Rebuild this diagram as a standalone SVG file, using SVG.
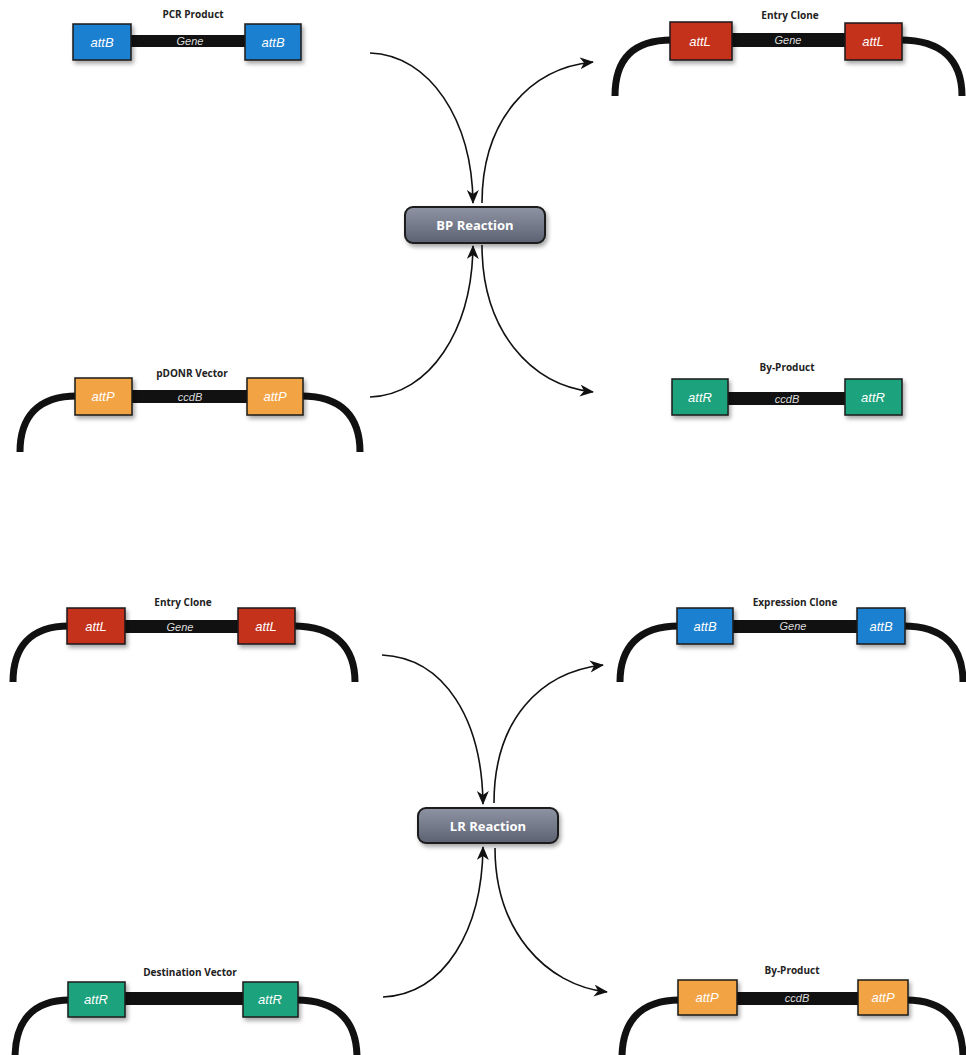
<svg xmlns="http://www.w3.org/2000/svg" width="966" height="1055" viewBox="0 0 966 1055">
<defs>
<filter id="sh" x="-20%" y="-20%" width="150%" height="160%"><feDropShadow dx="2" dy="3" stdDeviation="2" flood-color="#000" flood-opacity="0.35"/></filter>
<linearGradient id="rg" x1="0" y1="0" x2="0" y2="1"><stop offset="0" stop-color="#8e94a4"/><stop offset="1" stop-color="#5c6272"/></linearGradient>
<marker id="ah" markerUnits="userSpaceOnUse" markerWidth="16" markerHeight="14" refX="13" refY="6" orient="auto"><path d="M0,0 L14,6 L0,12 L4,6 z" fill="#111"/></marker>
</defs>
<style>
.title{font-family:"Open Sans","Liberation Sans",sans-serif;font-weight:bold;font-size:10px;fill:#222;text-anchor:middle}
.bar{fill:#111}
.bb{stroke:#1a1a1a;stroke-width:1.5;filter:url(#sh)}
.blue{fill:#1f80d0}
.red{fill:#c4321f}
.orange{fill:#f2a444}
.green{fill:#1ea27c}
.bl{font-family:"Liberation Sans",sans-serif;font-style:italic;font-size:13px;fill:#fff;text-anchor:middle}
.gl{font-family:"Liberation Sans",sans-serif;font-style:italic;font-size:11px;fill:#ddd;text-anchor:middle}
.curve{fill:none;stroke:#111;stroke-width:7}
.arr{fill:none;stroke:#111;stroke-width:1.6;marker-end:url(#ah)}
.rx{stroke:#1a1a1a;stroke-width:2;fill:url(#rg);filter:url(#sh)}
.rt{font-family:"Open Sans","Liberation Sans",sans-serif;font-weight:bold;font-size:13px;fill:#fff;text-anchor:middle}
</style>
<rect width="966" height="1055" fill="#fff"/>

<g id="pcr-product">
<text class="title" x="193" y="18">PCR Product</text>
<rect class="bar" x="128" y="35" width="120" height="12"/>
<rect class="bb blue" x="73" y="24" width="58" height="36"/>
<rect class="bb blue" x="245" y="24" width="56" height="36"/>
<text class="bl" x="102" y="47">attB</text>
<text class="bl" x="273" y="47">attB</text>
<text class="gl" x="190" y="45">Gene</text>
</g>

<g id="entry-clone-1">
<text class="title" x="790" y="19">Entry Clone</text>
<path class="curve" d="M672 40 C632 40 615 60 615 96"/>
<path class="curve" d="M900 40 C942 40 962 60 962 96"/>
<rect class="bar" x="730" y="33" width="118" height="14"/>
<rect class="bb red" x="670" y="22" width="62" height="38"/>
<rect class="bb red" x="845" y="23" width="57" height="37"/>
<text class="bl" x="700" y="46">attL</text>
<text class="bl" x="873" y="46">attL</text>
<text class="gl" x="788" y="44">Gene</text>
</g>

<g id="pdonr-vector">
<text class="title" x="192" y="377">pDONR Vector</text>
<path class="curve" d="M77 396 C37 396 20 418 20 452"/>
<path class="curve" d="M301 396 C343 396 360 418 360 452"/>
<rect class="bar" x="130" y="390" width="120" height="13"/>
<rect class="bb orange" x="75" y="378" width="57" height="37"/>
<rect class="bb orange" x="247" y="378" width="56" height="37"/>
<text class="bl" x="103" y="401">attP</text>
<text class="bl" x="275" y="401">attP</text>
<text class="gl" x="190" y="401">ccdB</text>
</g>

<g id="by-product-1">
<text class="title" x="787" y="371">By-Product</text>
<rect class="bar" x="726" y="392" width="122" height="13"/>
<rect class="bb green" x="672" y="379" width="56" height="36"/>
<rect class="bb green" x="845" y="379" width="57" height="36"/>
<text class="bl" x="700" y="402">attR</text>
<text class="bl" x="873" y="402">attR</text>
<text class="gl" x="787" y="403">ccdB</text>
</g>

<g id="bp-reaction">
<rect class="rx" x="405" y="207" width="140" height="36" rx="8"/>
<text class="rt" x="475" y="230">BP Reaction</text>
</g>

<g id="entry-clone-2">
<text class="title" x="183" y="606">Entry Clone</text>
<path class="curve" d="M69 626 C30 626 13 648 13 682"/>
<path class="curve" d="M293 626 C336 626 355 648 355 682"/>
<rect class="bar" x="123" y="620" width="118" height="13"/>
<rect class="bb red" x="67" y="608" width="58" height="36"/>
<rect class="bb red" x="238" y="608" width="57" height="36"/>
<text class="bl" x="96" y="631">attL</text>
<text class="bl" x="266" y="631">attL</text>
<text class="gl" x="180" y="631">Gene</text>
</g>

<g id="expression-clone">
<text class="title" x="795" y="606">Expression Clone</text>
<path class="curve" d="M679 626 C638 626 620 648 620 682"/>
<path class="curve" d="M903 626 C945 626 963 648 963 682"/>
<rect class="bar" x="731" y="620" width="128" height="13"/>
<rect class="bb blue" x="677" y="608" width="56" height="36"/>
<rect class="bb blue" x="857" y="608" width="48" height="36"/>
<text class="bl" x="705" y="631">attB</text>
<text class="bl" x="881" y="631">attB</text>
<text class="gl" x="793" y="630">Gene</text>
</g>

<g id="lr-reaction">
<rect class="rx" x="418" y="808" width="140" height="35" rx="8"/>
<text class="rt" x="488" y="831">LR Reaction</text>
</g>

<g id="destination-vector">
<text class="title" x="190" y="976">Destination Vector</text>
<path class="curve" d="M70 1000 C32 1000 15 1022 15 1058"/>
<path class="curve" d="M296 1000 C338 1000 357 1022 357 1058"/>
<rect class="bar" x="123" y="992" width="122" height="13"/>
<rect class="bb green" x="68" y="982" width="57" height="35"/>
<rect class="bb green" x="243" y="982" width="55" height="35"/>
<text class="bl" x="96" y="1004">attR</text>
<text class="bl" x="270" y="1004">attR</text>
</g>

<g id="by-product-2">
<text class="title" x="792" y="974">By-Product</text>
<path class="curve" d="M680 1000 C640 1000 622 1022 622 1058"/>
<path class="curve" d="M906 1000 C946 1000 963 1022 963 1058"/>
<rect class="bar" x="735" y="992" width="125" height="13"/>
<rect class="bb orange" x="678" y="980" width="59" height="35"/>
<rect class="bb orange" x="858" y="980" width="50" height="35"/>
<text class="bl" x="707" y="1002">attP</text>
<text class="bl" x="883" y="1002">attP</text>
<text class="gl" x="797" y="1002">ccdB</text>
</g>

<g id="connectors">
<path class="arr" d="M370 53 C430 55 472 120 473 203"/>
<path class="arr" d="M482 203 C482 120 530 68 593 62"/>
<path class="arr" d="M370 397 C430 395 472 330 473 246"/>
<path class="arr" d="M482 245 C482 330 530 385 593 392"/>
<path class="arr" d="M382 655 C445 658 482 720 483 804"/>
<path class="arr" d="M494 803 C494 720 540 672 603 665"/>
<path class="arr" d="M383 997 C445 994 482 930 483 847"/>
<path class="arr" d="M495 848 C495 930 545 985 607 992"/>
</g>
</svg>
